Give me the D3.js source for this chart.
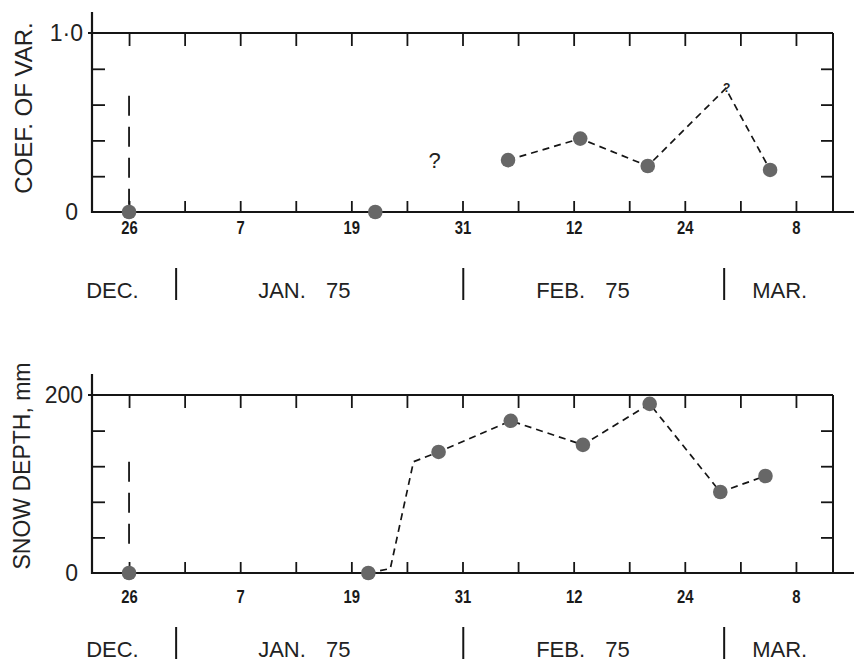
<!DOCTYPE html>
<html><head><meta charset="utf-8">
<script src="https://cdn.jsdelivr.net/npm/d3@7"></script>
<style>body{margin:0;background:#fff}svg{display:block}</style>
</head><body>
<script>
// ---------- data ----------
const xTickDates  = ["1974-12-26","1975-01-01","1975-01-07","1975-01-13","1975-01-19","1975-01-25","1975-01-31","1975-02-06","1975-02-12","1975-02-18","1975-02-24","1975-03-02","1975-03-08"];
const xTickLabels = ["26","","7","","19","","31","","12","","24","","8"];

const monthNames      = ["DEC.","JAN. 75","FEB. 75","MAR."];
const monthLabelDates = ["1974-12-24T05:00","1975-01-13T22:00","1975-02-13T00:00","1975-03-06T06:00"];
const monthBreakDates = ["1974-12-31T02:00","1975-01-31T02:00","1975-02-28T06:00"];

// coefficient of variation
const cvDotDates   = ["1974-12-26","1975-01-21T14:00","1975-02-04T22:00","1975-02-12T17:00","1975-02-20T00:00","1975-03-05T05:00"];
const cvDotValues  = [0, 0, 0.29, 0.41, 0.257, 0.235];
const cvLineDates  = ["1975-02-04T22:00","1975-02-12T17:00","1975-02-20T00:00","1975-02-28T10:00","1975-03-05T05:00"];
const cvLineValues = [0.29, 0.41, 0.257, 0.69, 0.235];
const cvQueryDates  = ["1975-01-28T00:00","1975-02-28T10:00"];
const cvQueryValues = [0.29, 0.69];
const cvQuerySizes  = ["big","small"];
const cvYTicks  = [0.2, 0.4, 0.6, 0.8];
const cvYLabels = [[0,"0"],[1,"1·0"]];
const cvMarkerRange = [0.04, 0.65];

// snow depth (mm)
const sdDotDates   = ["1974-12-26","1975-01-20T20:00","1975-01-28T10:00","1975-02-05T05:00","1975-02-13T00:00","1975-02-20T05:00","1975-02-27T20:00","1975-03-04T17:00"];
const sdDotValues  = [0, 0, 136, 171, 144, 190, 91, 109];
const sdLineDates  = ["1975-01-20T20:00","1975-01-23T05:00","1975-01-25T17:00","1975-01-28T10:00","1975-02-05T05:00","1975-02-13T00:00","1975-02-20T05:00","1975-02-27T20:00","1975-03-04T17:00"];
const sdLineValues = [0, 5, 125, 136, 171, 144, 190, 91, 109];
const sdYTicks  = [40, 80, 120, 160];
const sdYLabels = [[0,"0"],[200,"200"]];
const sdMarkerRange = [26, 125];

const markerDate = "1974-12-26";

// ---------- drawing ----------
const P = d3.isoParse;
const W = 854, H = 668;
const svg = d3.select("body").append("svg").attr("width", W).attr("height", H)
  .style("font-family", "'Liberation Sans', Arial, sans-serif");

const x = d3.scaleUtc().domain([P("1974-12-22"), P("1975-03-12")]).range([92, 833]);
const INK = "#151515";

function panel(cfg) {
  const g = svg.append("g");
  const y = d3.scaleLinear().domain(cfg.yDomain).range([cfg.bottom, cfg.top]);
  const L = x.range()[0], R = x.range()[1];

  const line = (x1,y1,x2,y2,w) => g.append("line").attr("x1",x1).attr("y1",y1).attr("x2",x2).attr("y2",y2)
      .attr("stroke",INK).attr("stroke-width",w||2);
  line(L, cfg.top - 21, L, cfg.bottom + 1, 2.2);        // left axis
  line(L - 4, cfg.top, R, cfg.top, 2);                  // top border
  line(R, cfg.top, R, cfg.bottom, 2);                   // right border
  line(L, cfg.bottom, W, cfg.bottom, 2.2);              // bottom axis

  const tickDates = xTickDates.map(P);
  const ax = g.append("g").attr("transform", `translate(0,${cfg.bottom})`)
    .call(d3.axisBottom(x).tickValues(tickDates).tickSize(-11).tickFormat((d,i)=>xTickLabels[i]));
  ax.select(".domain").remove();
  ax.selectAll("line").attr("stroke", INK).attr("stroke-width", 1.8);
  ax.selectAll("text").attr("y", cfg.tickLabelDy).attr("dy", 0)
    .attr("transform", "scale(0.78,1)")
    .attr("fill", "#1a1a1a").style("font-size", "19px").style("font-weight", "bold");

  const at = g.append("g").attr("transform", `translate(0,${cfg.top})`)
    .call(d3.axisBottom(x).tickValues(tickDates).tickSize(13).tickFormat(""));
  at.select(".domain").remove();
  at.selectAll("line").attr("stroke", INK).attr("stroke-width", 1.8);

  const al = g.append("g").attr("transform", `translate(${L},0)`)
    .call(d3.axisRight(y).tickValues(cfg.yTicks).tickSize(13).tickFormat(""));
  al.select(".domain").remove();
  al.selectAll("line").attr("stroke", INK).attr("stroke-width", 1.8);

  const ar = g.append("g").attr("transform", `translate(${R},0)`)
    .call(d3.axisLeft(y).tickValues(cfg.yTicks).tickSize(12).tickFormat(""));
  ar.select(".domain").remove();
  ar.selectAll("line").attr("stroke", INK).attr("stroke-width", 1.8);

  g.selectAll(".ylab").data(cfg.yLabels).join("text")
    .attr("x", d => L - (d[0] === 0 ? 14 : 9))
    .attr("y", d => y(d[0]))
    .attr("dy", "0.36em")
    .attr("text-anchor", "end")
    .attr("fill", "#222")
    .style("font-size", "23px")
    .text(d => d[1]);

  g.append("text")
    .attr("transform", `translate(${cfg.titleX},${cfg.titleY}) rotate(-90)`)
    .attr("text-anchor", "middle")
    .attr("fill", "#222")
    .style("font-size", cfg.titleSize + "px")
    .text(cfg.title);

  g.append("line")
    .attr("x1", x(P(markerDate))).attr("x2", x(P(markerDate)))
    .attr("y1", y(cfg.markerRange[1])).attr("y2", y(cfg.markerRange[0]))
    .attr("stroke", INK).attr("stroke-width", 1.8).attr("stroke-dasharray", "20,11");

  const pts = cfg.lineDates.map((d,i)=>[x(P(d)), y(cfg.lineValues[i])]);
  g.append("path").attr("d", d3.line()(pts))
    .attr("fill", "none").attr("stroke", INK).attr("stroke-width", 1.7)
    .attr("stroke-dasharray", "7,5");

  g.selectAll(".dot").data(cfg.dotDates).join("circle")
    .attr("cx", d => x(P(d)))
    .attr("cy", (d,i) => y(cfg.dotValues[i]))
    .attr("r", 7.3)
    .attr("fill", "#676767");

  if (cfg.queryDates) {
    g.selectAll(".q").data(cfg.queryDates).join("text")
      .attr("x", (d,i) => x(P(d)) + (cfg.querySizes[i] === "big" ? 0 : 1))
      .attr("y", (d,i) => y(cfg.queryValues[i]))
      .attr("dy", (d,i) => cfg.querySizes[i] === "big" ? "0.38em" : "0.3em")
      .attr("text-anchor", "middle")
      .attr("fill", "#222")
      .style("font-size", (d,i) => cfg.querySizes[i] === "big" ? "22px" : "12px")
      .style("font-weight", (d,i) => cfg.querySizes[i] === "big" ? "normal" : "bold")
      .text("?");
  }

  const mr = g.append("g");
  mr.selectAll("line").data(monthBreakDates).join("line")
    .attr("x1", d => x(P(d))).attr("x2", d => x(P(d)))
    .attr("y1", cfg.monthY - 30).attr("y2", cfg.monthY + 2)
    .attr("stroke", INK).attr("stroke-width", 2);
  mr.selectAll("text").data(monthNames).join("text")
    .attr("x", (d,i) => x(P(monthLabelDates[i])))
    .attr("y", cfg.monthY)
    .attr("text-anchor", "middle")
    .attr("fill", "#222")
    .style("font-size", "22px")
    .style("white-space", "pre")
    .style("word-spacing", "14px")
    .text(d => d);
}

panel({
  top: 33, bottom: 212, yDomain: [0, 1], yTicks: cvYTicks, yLabels: cvYLabels,
  title: "COEF. OF VAR.", titleX: 32, titleY: 108, titleSize: 24,
  markerRange: cvMarkerRange,
  lineDates: cvLineDates, lineValues: cvLineValues,
  dotDates: cvDotDates, dotValues: cvDotValues,
  queryDates: cvQueryDates, queryValues: cvQueryValues, querySizes: cvQuerySizes,
  tickLabelDy: 22, monthY: 298
});

panel({
  top: 395, bottom: 573, yDomain: [0, 200], yTicks: sdYTicks, yLabels: sdYLabels,
  title: "SNOW DEPTH, mm", titleX: 30, titleY: 466, titleSize: 23,
  markerRange: sdMarkerRange,
  lineDates: sdLineDates, lineValues: sdLineValues,
  dotDates: sdDotDates, dotValues: sdDotValues,
  tickLabelDy: 30, monthY: 657
});
</script>
</body></html>
